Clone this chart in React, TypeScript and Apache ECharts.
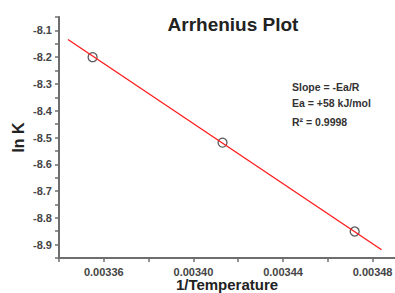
import React, { useEffect, useRef } from "react";
import * as echarts from "echarts";

const pointX = [0.003355, 0.003413, 0.003472];
const pointY = [-8.2, -8.519, -8.851];
const fitX = [0.003344, 0.003484];
const fitY = [-8.134, -8.919];
const annotations = ["Slope = -Ea/R", "Ea = +58 kJ/mol", "R² = 0.9998"];

export default function App() {
  const ref = useRef<HTMLDivElement>(null);
  useEffect(() => {
    const chart = echarts.init(ref.current!, null, { renderer: "svg" });
    const font = "'Liberation Sans', Arial, sans-serif";
    const axisColor = "#6e6e6e";
    chart.setOption({
      animation: false,
      backgroundColor: "#ffffff",
      textStyle: { fontFamily: font },
      title: {
        text: "Arrhenius Plot",
        left: 228,
        top: 10,
        textAlign: "center",
        textStyle: { fontSize: 19, fontWeight: "bold", color: "#222", fontFamily: font },
      },
      grid: { left: 59, right: 0, top: 17, bottom: 35, outerBoundsMode: "none", containLabel: false },
      xAxis: {
        type: "value",
        min: 0.00334,
        max: 0.00349,
        interval: 0.00002,
        name: "1/Temperature",
        nameLocation: "middle",
        nameGap: 19,
        nameMoveOverlap: false,
        nameTextStyle: { fontSize: 15, fontWeight: "bold", color: "#222", fontFamily: font },
        splitLine: { show: false },
        axisLine: { lineStyle: { color: axisColor, width: 2 } },
        axisTick: { length: 4, lineStyle: { color: axisColor, width: 1.5 } },
        axisLabel: {
          fontSize: 11,
          fontWeight: "bold",
          color: "#444",
          margin: 8,
          showMaxLabel: false,
          formatter: (v: number) => {
            const k = Math.round(v * 100000);
            return k % 4 === 0 ? (k / 100000).toFixed(5) : "";
          },
        },
      },
      yAxis: {
        type: "value",
        min: -8.95,
        max: -8.05,
        interval: 0.05,
        name: "ln K",
        nameLocation: "middle",
        nameGap: 33,
        nameMoveOverlap: false,
        nameTextStyle: { fontSize: 16, fontWeight: "bold", color: "#222", fontFamily: font },
        splitLine: { show: false },
        axisLine: { show: true, lineStyle: { color: axisColor, width: 2 } },
        axisTick: { show: true, length: 4, lineStyle: { color: axisColor, width: 1.5 } },
        axisLabel: {
          fontSize: 11,
          fontWeight: "bold",
          color: "#444",
          margin: 7,
          formatter: (v: number) => {
            const k = Math.round(v * 100);
            return k % 10 === 0 ? (k / 100).toFixed(1) : "";
          },
        },
      },
      graphic: annotations.map((t, i) => ({
        type: "text",
        left: 292,
        top: [81, 97, 116][i],
        style: { text: t, fontSize: 10.5, fontWeight: "bold", fill: "#333", fontFamily: font },
      })),
      series: [
        {
          type: "line",
          data: fitX.map((x, i) => [x, fitY[i]]),
          symbol: "none",
          lineStyle: { color: "#ff1a1a", width: 1.3 },
        },
        {
          type: "scatter",
          data: pointX.map((x, i) => [x, pointY[i]]),
          symbol: "circle",
          symbolSize: 9,
          itemStyle: { color: "rgba(0,0,0,0)", borderColor: "#333", borderWidth: 1.3 },
        },
      ],
    });
    return () => chart.dispose();
  }, []);
  return (
    <div
      ref={ref}
      style={{ position: "fixed", left: 0, top: 0, width: 395, height: 293 }}
    />
  );
}
